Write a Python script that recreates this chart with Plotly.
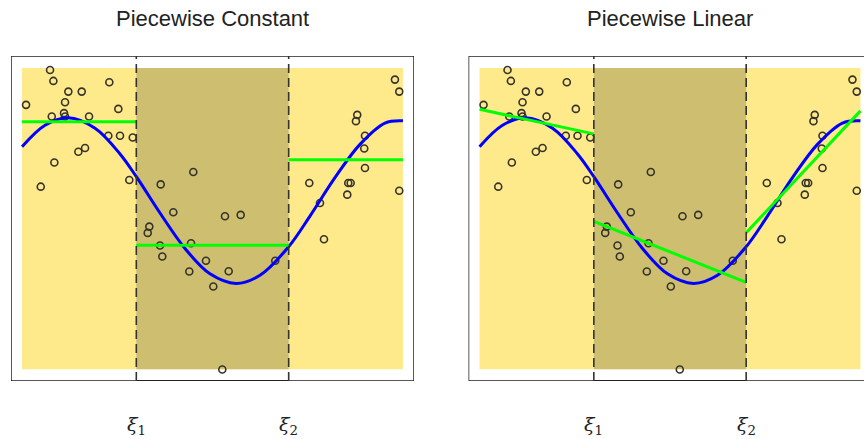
import numpy as np
import plotly.graph_objects as go

# ---- data ----
x_pts = [0.0735, 0.0822, 0.1215, 0.1567, 0.2291, 0.0105, 0.1129, 0.2528, 0.0780, 0.1102,
         0.1129, 0.1759, 0.2265, 0.2572, 0.2906, 0.1654, 0.1478, 0.0848, 0.0491, 0.2816,
         0.3640, 0.4496, 0.3971, 0.5328, 0.5740, 0.3341, 0.3299, 0.3622, 0.4436, 0.3682,
         0.4829, 0.4391, 0.5425, 0.5021, 0.6648, 0.5257,
         0.9790, 0.9903, 0.8800, 0.8766, 0.9003, 0.8984, 0.9003, 0.7541, 0.8564, 0.8627,
         0.8538, 0.9903, 0.7822, 0.7927]
y_pts = [0.993, 0.957, 0.9215, 0.9215, 0.9526, 0.8775, 0.8864, 0.8642, 0.8387, 0.850,
         0.8387, 0.8387, 0.7748, 0.7748, 0.7692, 0.7341, 0.7219, 0.6864, 0.606, 0.6281,
         0.6136, 0.6546, 0.5209, 0.5076, 0.5123, 0.4735, 0.4526, 0.4106, 0.4182, 0.3742,
         0.3599, 0.3245, 0.3255, 0.2748, 0.3599, -0.001,
         0.9613, 0.9215, 0.8444, 0.8235, 0.7748, 0.7328, 0.6679, 0.6182, 0.6182, 0.6182,
         0.5795, 0.5927, 0.552, 0.4315]

# true function
x_true = [0, 0.0604, 0.1207, 0.1916, 0.2572, 0.3018, 0.3622, 0.4278, 0.4934, 0.5617,
          0.6247, 0.6982, 0.7559, 0.8215, 0.8871, 0.9528, 1.0]
y_true = [0.7384, 0.8096, 0.8344, 0.80, 0.7146, 0.6358, 0.5185, 0.4007, 0.3166, 0.2848,
          0.3119, 0.404, 0.5083, 0.6358, 0.7464, 0.8172, 0.8245]

knots = [0.3, 0.7]
knot_labels = ["<i>ξ</i><sub>1</sub>", "<i>ξ</i><sub>2</sub>"]
titles = ["Piecewise Constant", "Piecewise Linear"]

# ---- styles ----
YELLOW = "#FEE98B"
DARK = "#CEBE70"
W, H = 864, 439
XR = [-0.029, 1.029]
YR = [-0.039, 1.0397]
xl = np.array(x_pts)
yl = np.array(y_pts)
edges = [0.0] + knots + [1.0]

fig = go.Figure()
fig.update_layout(
    width=W, height=H, margin=dict(l=0, r=0, t=0, b=0),
    paper_bgcolor="white", plot_bgcolor="white", showlegend=False,
    xaxis=dict(domain=[11 / W, 414 / W], range=XR, visible=False),
    yaxis=dict(domain=[(H - 381) / H, (H - 56) / H], range=YR, visible=False),
    xaxis2=dict(domain=[468.5 / W, 1.0], range=[XR[0], XR[0] + 395.5 / 403 * (XR[1] - XR[0])],
                visible=False),
    yaxis2=dict(domain=[(H - 381) / H, (H - 56) / H], range=YR, visible=False, anchor="x2"),
)

shapes = []
annotations = []
for p, (xa, ya) in enumerate([("x", "y"), ("x2", "y2")]):
    # background regions
    shapes.append(dict(type="rect", xref=xa, yref=ya, x0=0, x1=1, y0=0, y1=1,
                       fillcolor=YELLOW, line_width=0, layer="below"))
    shapes.append(dict(type="rect", xref=xa, yref=ya, x0=knots[0], x1=knots[1], y0=0, y1=1,
                       fillcolor=DARK, line_width=0, layer="below"))
    # box
    shapes.append(dict(type="rect", xref=xa, yref=ya, x0=XR[0], x1=XR[1], y0=YR[0], y1=YR[1],
                       line=dict(color="#222", width=1.5), fillcolor="rgba(0,0,0,0)"))
    # axis segment between knots
    shapes.append(dict(type="line", xref=xa, yref=ya, x0=knots[0], x1=knots[1],
                       y0=YR[0], y1=YR[0], line=dict(color="#222", width=2.2)))
    for k, lab in zip(knots, knot_labels):
        shapes.append(dict(type="line", xref=xa, yref=ya, x0=k, x1=k, y0=YR[0], y1=YR[1],
                           line=dict(color="#333", width=1.6, dash="9px,5px")))
        shapes.append(dict(type="line", xref=xa, yref=ya, x0=k, x1=k, y0=YR[0], y1=YR[0] - 0.023,
                           line=dict(color="#222", width=1.5)))
        annotations.append(dict(xref=xa, yref="paper", x=k, y=1 - 425 / H, text=lab,
                                showarrow=False, xanchor="center", yanchor="middle",
                                font=dict(family="DejaVu Serif", size=19, color="#222")))
    cx = (11 + 414) / 2 if p == 0 else 669.5
    annotations.append(dict(xref="paper", yref="paper", x=cx / W, y=1 - 18.5 / H,
                            text=titles[p], showarrow=False, xanchor="center", yanchor="middle",
                            font=dict(family="Liberation Sans", size=22, color="#222")))

    # points
    fig.add_trace(go.Scatter(x=x_pts, y=y_pts, mode="markers", xaxis=xa, yaxis=ya,
                             marker=dict(symbol="circle-open", size=7, color="#36342a",
                                         line=dict(width=1.6))))
    # true function
    fig.add_trace(go.Scatter(x=x_true, y=y_true, mode="lines", xaxis=xa, yaxis=ya,
                             line=dict(color="#0000FF", width=3, shape="spline", smoothing=1)))
    # fits
    for a, b in zip(edges[:-1], edges[1:]):
        m = (xl >= a) & (xl < b)
        if p == 0:
            c = yl[m].mean()
            fx, fy = [a, b], [c, c]
        else:
            s, i0 = np.polyfit(xl[m], yl[m], 1)
            fx, fy = [a, b], [i0 + s * a, i0 + s * b]
        fig.add_trace(go.Scatter(x=fx, y=fy, mode="lines", xaxis=xa, yaxis=ya,
                                 line=dict(color="#00FF00", width=3)))

fig.update_layout(shapes=shapes, annotations=annotations)
fig.write_html("out.html")
